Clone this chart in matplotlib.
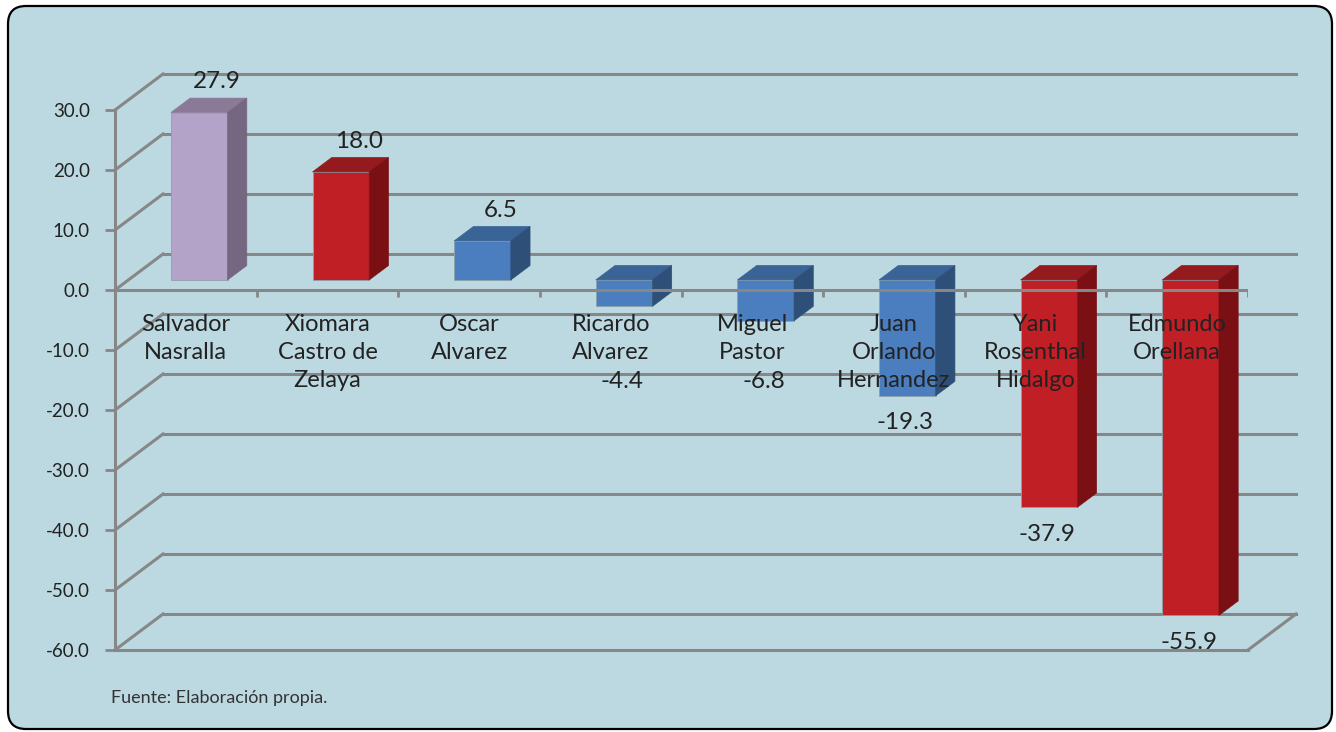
import numpy as np
import matplotlib.pyplot as plt
from matplotlib.patches import Polygon, FancyBboxPatch

plt.rcParams['font.family'] = ['Lato', 'DejaVu Sans']

# --- data ---
candidates = ["Salvador\nNasralla", "Xiomara\nCastro de\nZelaya", "Oscar\nAlvarez",
              "Ricardo\nAlvarez", "Miguel\nPastor", "Juan\nOrlando\nHernandez",
              "Yani\nRosenthal\nHidalgo", "Edmundo\nOrellana"]
values = [27.9, 18.0, 6.5, -4.4, -6.8, -19.3, -37.9, -55.9]
y_ticks = np.arange(-60, 31, 10)

# colours per bar: front, top, side
purple = ("#b3a3c8", "#8a7a98", "#756681")
red = ("#c01f26", "#941a1d", "#7a1013")
blue = ("#4a7ebf", "#3a6396", "#2e4f77")
bar_colors = [purple, red, blue, blue, blue, blue, red, red]

bg = "#bcd9e2"
grid_c = "#878787"
text_c = "#222222"

# depth of the 3D box in data units (x: categories, y: values)
DX, DY = 0.339, 6.0
f0, depth = 0.28, 0.40  # bar front position and thickness (fraction of depth)
bw = 0.40

W, H = 1336, 732
fig = plt.figure(figsize=(W / 100, H / 100), dpi=100)
fig.patch.set_facecolor("white")

# rounded panel
bgax = fig.add_axes([0, 0, 1, 1])
bgax.set_xlim(0, W)
bgax.set_ylim(H, 0)
bgax.axis("off")
bgax.add_patch(FancyBboxPatch((8, 6), 1324, 723, boxstyle="round,pad=0,rounding_size=18",
                              facecolor=bg, edgecolor="black", linewidth=1.6))

ax = fig.add_axes([115 / W, 1 - 650 / H, (1248 - 115) / W, (650 - 110) / H])
ax.patch.set_alpha(0)
ax.set_xlim(0, 8)
ax.set_ylim(-60, 30)

# walls: back gridlines + left-wall diagonals
for v in y_ticks:
    ax.plot([DX, 8 + DX], [v + DY, v + DY], color=grid_c, lw=2.2, clip_on=False, zorder=1)
    ax.plot([0, DX], [v, v + DY], color=grid_c, lw=2.2, clip_on=False, zorder=1)
ax.plot([8, 8 + DX], [-60, -60 + DY], color=grid_c, lw=2.2, clip_on=False, zorder=1)

# bars
x = np.arange(len(values)) + 0.5
fronts = [c[0] for c in bar_colors]
ax.bar(x + f0 * DX, values, width=bw, bottom=f0 * DY, color=fronts,
       edgecolor="#8da2aa", linewidth=0.6, zorder=3)
ddx, ddy = depth * DX, depth * DY
for xi, v, cols in zip(x, values, bar_colors):
    xl = xi - bw / 2 + f0 * DX
    xr = xi + bw / 2 + f0 * DX
    y0 = f0 * DY
    ytop = y0 + max(v, 0)
    ybot = y0 + min(v, 0)
    top = [(xl, ytop), (xr, ytop), (xr + ddx, ytop + ddy), (xl + ddx, ytop + ddy)]
    side = [(xr, ybot), (xr, ytop), (xr + ddx, ytop + ddy), (xr + ddx, ybot + ddy)]
    ax.add_patch(Polygon(top, closed=True, facecolor=cols[1], edgecolor=cols[1], lw=0.5, zorder=3, clip_on=False))
    ax.add_patch(Polygon(side, closed=True, facecolor=cols[2], edgecolor=cols[2], lw=0.5, zorder=3, clip_on=False))

# category axis at zero (drawn over bars)
ax.axhline(0, color=grid_c, lw=2.2, zorder=4)
ax.vlines(np.arange(1, 9), -1.1, 0, color=grid_c, lw=2.0, zorder=4)

# spines / y axis
for s in ["top", "right"]:
    ax.spines[s].set_visible(False)
ax.spines["left"].set_color(grid_c)
ax.spines["left"].set_linewidth(2.2)
ax.spines["bottom"].set_color(grid_c)
ax.spines["bottom"].set_linewidth(2.2)
ax.set_xticks([])
ax.set_yticks(y_ticks)
ax.set_yticklabels([f"{v:.1f}" for v in y_ticks], fontsize=13.5, color=text_c)
ax.tick_params(axis="y", length=7, width=2, color=grid_c, pad=11)

# category labels
for xi, name in zip(x, candidates):
    ax.text(xi, -4.0, name, ha="center", va="top", fontsize=17, color=text_c,
            linespacing=1.42, zorder=5)

# value labels
for xi, v in zip(x, values):
    if v >= 0:
        ax.text(xi + 0.22, v + f0 * DY + ddy + 2.7, f"{v:.1f}", ha="center", va="center",
                fontsize=17.5, color=text_c, zorder=5, clip_on=False)
    else:
        ax.text(xi + 0.08, min(v - 2.85, -15.2), f"{v:.1f}", ha="center", va="center",
                fontsize=17.5, color=text_c, zorder=5)

fig.text(111 / W, 1 - 698 / H, "Fuente: Elaboración propia.", ha="left", va="center",
         fontsize=13, color="#333333")

fig.savefig("out.png", dpi=100)
